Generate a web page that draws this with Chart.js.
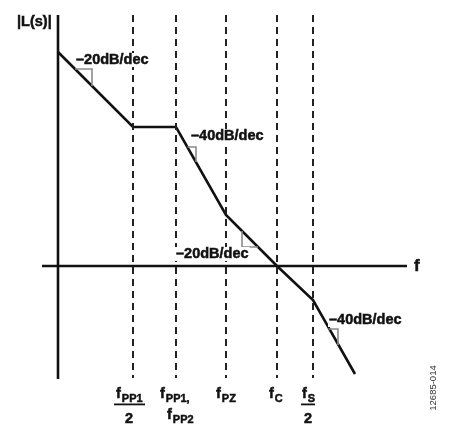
<!DOCTYPE html>
<html><head><meta charset="utf-8">
<script src="https://cdn.jsdelivr.net/npm/chart.js@4.4.1/dist/chart.umd.min.js"></script>
<style>html,body{margin:0;padding:0;background:#fff}#wrap{width:454px;height:427px}</style>
</head><body><div id="wrap"><canvas id="c"></canvas></div>
<script>
// Asymptotic Bode magnitude sketch (units: log-frequency position, gain)
const breakFreqs = [75, 118, 168, 219, 255];           // fPP1/2, fPP1/fPP2, fPZ, fC, fS/2
const curveX = [0, 75, 118, 168, 219, 255, 297];
const curveY = [214, 139, 139, 51, 0, -34, -108];
const slopeLabels = ['–20dB/dec', '–40dB/dec', '–20dB/dec', '–40dB/dec'];
const slopeLabelX = [18, 133, 118, 271];
const slopeLabelY = [206, 130, 12, -54];
const tri1X = [17, 34, 34],  tri1Y = [197, 197, 180];
const tri2X = [129.4, 138, 138], tri2Y = [119, 119, 104];
const tri3X = [184, 184, 200], tri3Y = [35, 19, 19];
const tri4X = [270.5, 280, 280], tri4Y = [-63, -63, -79];
const axisTop = 251, axisBottom = -113, hAxisLeft = -16, hAxisRight = 349;

const pts = (xs, ys) => xs.map((x, i) => ({x, y: ys[i]}));
const ds = (data, color, width, dash) => ({data, borderColor: color, borderWidth: width, borderDash: dash || [], pointRadius: 0, fill: false, tension: 0, showLine: true, borderCapStyle: 'butt'});

const datasets = [];
breakFreqs.forEach(f => datasets.push(ds(pts([f, f], [axisTop, axisBottom + 1]), '#222', 2, [7, 5])));
datasets.push(ds(pts([0, 0], [axisTop, axisBottom]), '#111', 2.6));
datasets.push(ds(pts([hAxisLeft, hAxisRight], [0, 0]), '#111', 2.6));
[[tri1X, tri1Y], [tri2X, tri2Y], [tri3X, tri3Y], [tri4X, tri4Y]].forEach(t => datasets.push(ds(pts(t[0], t[1]), '#8a8a8a', 1.6)));
datasets.push(ds(pts(curveX, curveY), '#111', 2.6));

const FONT = '"Liberation Sans", Arial, sans-serif';
const boldText = (ctx, t, x, y) => {
  ctx.lineWidth = 0.5;
  ctx.strokeStyle = ctx.fillStyle;
  ctx.strokeText(t, x, y);
  ctx.fillText(t, x, y);
};
const labelPlugin = {
  id: 'labels',
  afterDatasetsDraw(chart) {
    const ctx = chart.ctx, xs = chart.scales.x, ys = chart.scales.y;
    ctx.save();
    ctx.fillStyle = '#111';
    ctx.textBaseline = 'middle';
    ctx.textAlign = 'left';
    ctx.font = 'bold 14.5px ' + FONT;
    slopeLabels.forEach((t, i) => {
      const x = xs.getPixelForValue(slopeLabelX[i]), y = ys.getPixelForValue(slopeLabelY[i]);
      const w = ctx.measureText(t).width;
      ctx.fillStyle = '#fff';
      ctx.fillRect(x - 1, y - 7, w + 2, 14);
      ctx.fillStyle = '#111';
      boldText(ctx, t, x, y);
    });
    // axis titles
    boldText(ctx, '|L(s)|', xs.getPixelForValue(0) - 41, ys.getPixelForValue(axisTop) + 7);
    ctx.font = 'bold 17px ' + FONT;
    boldText(ctx, 'f', xs.getPixelForValue(hAxisRight) + 7, ys.getPixelForValue(0));
    // frequency labels with subscripts
    ctx.textBaseline = 'alphabetic';
    const sub = (x, base, main, s) => {
      ctx.textAlign = 'left';
      ctx.font = 'bold 14.5px ' + FONT;
      boldText(ctx, main, x, base);
      const w = ctx.measureText(main).width;
      ctx.font = 'bold 11px ' + FONT;
      boldText(ctx, s, x + w + 1, base + 4);
    };
    const frac = (x0, x1, cx) => {
      ctx.fillRect(x0, 403.5, x1 - x0, 1.8);
      ctx.textAlign = 'center';
      ctx.font = 'bold 14.5px ' + FONT;
      boldText(ctx, '2', cx, 423);
    };
    const px = breakFreqs.map(f => xs.getPixelForValue(f));
    // fPP1/2
    sub(px[0] - 17, 398, 'f', 'PP1');
    frac(px[0] - 19, px[0] + 12, px[0] - 4);
    // fPP1, fPP2
    sub(px[1] - 16, 398, 'f', 'PP1,');
    sub(px[1] - 9, 419, 'f', 'PP2');
    // fPZ
    sub(px[2] - 10, 398, 'f', 'PZ');
    // fC
    sub(px[3] - 8, 398, 'f', 'C');
    // fS/2
    sub(px[4] - 11, 398, 'f', 'S');
    frac(px[4] - 12, px[4] + 2, px[4] - 5);
    // figure id
    ctx.save();
    ctx.translate(433, 388);
    ctx.rotate(-Math.PI / 2);
    ctx.textAlign = 'center';
    ctx.textBaseline = 'middle';
    ctx.fillStyle = '#333';
    ctx.font = '9.5px ' + FONT;
    ctx.fillText('12685-014', 0, 0);
    ctx.restore();
    ctx.restore();
  }
};

new Chart(document.getElementById('c'), {
  type: 'scatter',
  data: {datasets},
  options: {
    responsive: true, maintainAspectRatio: false, animation: false,
    layout: {padding: 0},
    plugins: {legend: {display: false}, tooltip: {enabled: false}},
    scales: {
      x: {type: 'linear', min: -58, max: 396, display: false},
      y: {type: 'linear', min: -161, max: 266, display: false}
    }
  },
  plugins: [labelPlugin]
});
</script></body></html>
